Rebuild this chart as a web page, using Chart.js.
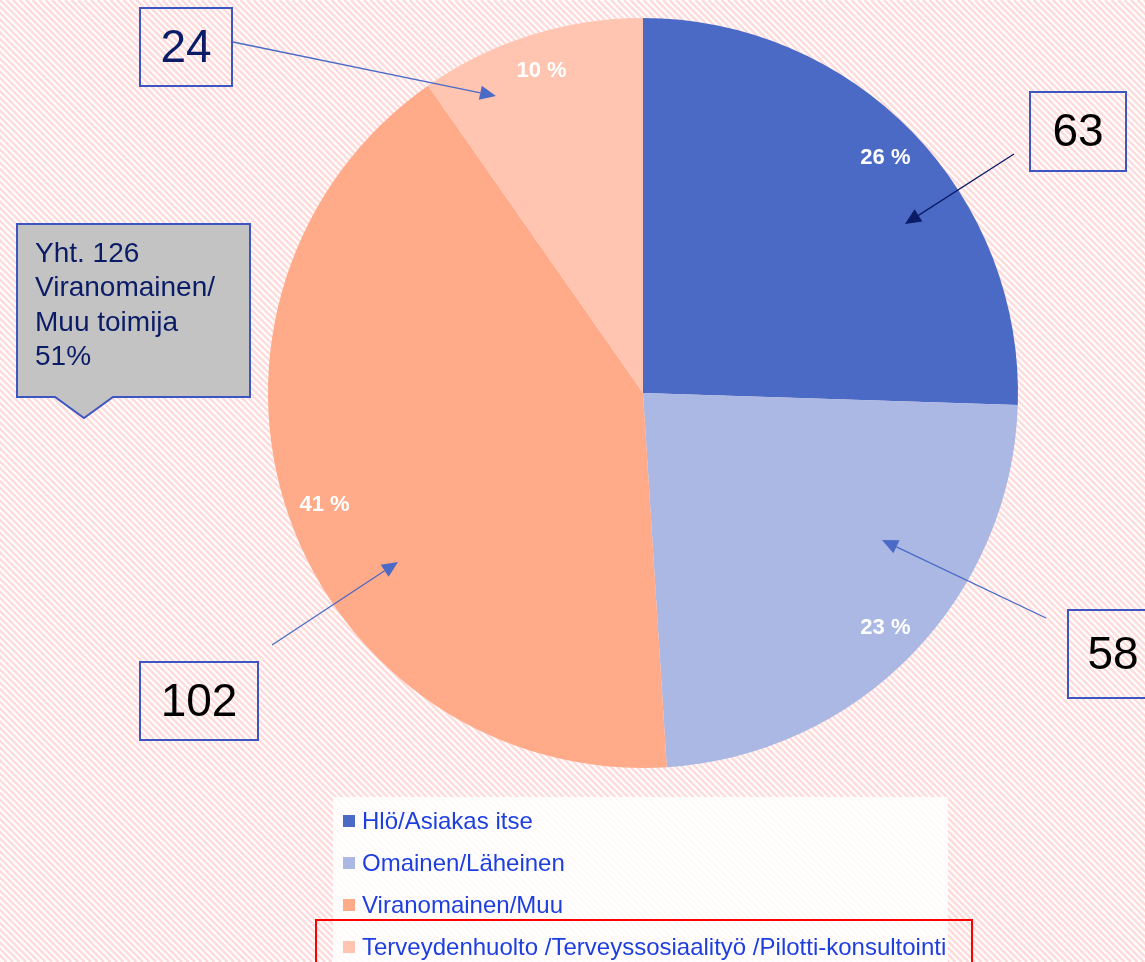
<!DOCTYPE html>
<html><head><meta charset="utf-8">
<script src="https://cdn.jsdelivr.net/npm/chart.js@4.4.1/dist/chart.umd.min.js"></script>
<style>html,body{margin:0;padding:0;background:#fff;}#wrap{width:1145px;height:962px;position:relative;}</style>
</head><body><div id="wrap"><canvas id="c" width="1145" height="962"></canvas></div>
<script>
const categories = ["Hlö/Asiakas itse", "Omainen/Läheinen", "Viranomainen/Muu", "Terveydenhuolto /Terveyssosiaalityö /Pilotti-konsultointi"];
const counts = [63, 58, 102, 24];
const percentLabels = ["26 %", "23 %", "41 %", "10 %"];
const sliceColors = ["#4A6AC6", "#AAB8E3", "#FFAA89", "#FFC5B1"];
const calloutLines = ["Yht. 126", "Viranomainen/", "Muu toimija", "51%"];

const FONT = '"Liberation Sans", Arial, sans-serif';
const NAVY = "#0B1C66";
const BOXBLUE = "#3D56C2";

function arrow(ctx, x1, y1, x2, y2, color, w, head) {
  ctx.save();
  ctx.strokeStyle = color; ctx.fillStyle = color; ctx.lineWidth = w;
  const a = Math.atan2(y2 - y1, x2 - x1);
  const bx = x2 - Math.cos(a) * head, by = y2 - Math.sin(a) * head;
  ctx.beginPath(); ctx.moveTo(x1, y1); ctx.lineTo(bx, by); ctx.stroke();
  ctx.beginPath();
  ctx.moveTo(x2, y2);
  ctx.lineTo(bx + Math.cos(a + Math.PI / 2) * head * 0.45, by + Math.sin(a + Math.PI / 2) * head * 0.45);
  ctx.lineTo(bx + Math.cos(a - Math.PI / 2) * head * 0.45, by + Math.sin(a - Math.PI / 2) * head * 0.45);
  ctx.closePath(); ctx.fill();
  ctx.restore();
}
function numBox(ctx, x, y, w, h, text, color) {
  ctx.save();
  ctx.strokeStyle = BOXBLUE; ctx.lineWidth = 2;
  ctx.strokeRect(x, y, w, h);
  ctx.fillStyle = color; ctx.font = "46px " + FONT;
  ctx.textAlign = "center"; ctx.textBaseline = "middle";
  ctx.fillText(text, x + w / 2, y + h / 2 + 2);
  ctx.restore();
}

const bgPlugin = {
  id: "bg",
  beforeDraw(chart) {
    const ctx = chart.ctx;
    ctx.save();
    ctx.fillStyle = "#ffffff";
    ctx.fillRect(0, 0, chart.width, chart.height);
    ctx.strokeStyle = "#FFDCDC"; ctx.lineWidth = 2.6;
    for (let k = -chart.height; k < chart.width + chart.height; k += 6.5) {
      ctx.beginPath(); ctx.moveTo(k, 0); ctx.lineTo(k + chart.height, chart.height); ctx.stroke();
    }
    ctx.fillStyle = "rgba(255,255,255,0.85)";
    ctx.fillRect(333, 797, 615, 170);
    ctx.restore();
  },
  afterDatasetsDraw(chart) {
    const ctx = chart.ctx;
    const meta = chart.getDatasetMeta(0);
    ctx.save();
    ctx.fillStyle = "#ffffff"; ctx.font = "bold 22px " + FONT;
    ctx.textAlign = "center"; ctx.textBaseline = "middle";
    meta.data.forEach((arc, i) => {
      const mid = (arc.startAngle + arc.endAngle) / 2;
      const r = arc.outerRadius * 0.9;
      ctx.fillText(percentLabels[i], arc.x + Math.cos(mid) * r, arc.y + Math.sin(mid) * r);
    });
    ctx.restore();
  },
  afterDraw(chart) {
    const ctx = chart.ctx;
    numBox(ctx, 140, 8, 92, 78, String(counts[3]), NAVY);
    numBox(ctx, 1030, 92, 96, 79, String(counts[0]), "#000");
    numBox(ctx, 1068, 610, 90, 88, String(counts[1]), "#000");
    numBox(ctx, 140, 662, 118, 78, String(counts[2]), "#000");
    arrow(ctx, 233, 42, 496, 96, "#4A6AC6", 1.3, 16);
    arrow(ctx, 1014, 154, 905, 224, NAVY, 1.3, 16);
    arrow(ctx, 1046, 618, 882, 540, "#4A6AC6", 1.3, 16);
    arrow(ctx, 272, 645, 398, 562, "#4A6AC6", 1.3, 16);
    ctx.save();
    ctx.beginPath();
    ctx.moveTo(17, 224); ctx.lineTo(250, 224); ctx.lineTo(250, 397);
    ctx.lineTo(113, 397); ctx.lineTo(84, 418); ctx.lineTo(55, 397); ctx.lineTo(17, 397);
    ctx.closePath();
    ctx.fillStyle = "#C4C3C4"; ctx.fill();
    ctx.strokeStyle = BOXBLUE; ctx.lineWidth = 2; ctx.stroke();
    ctx.fillStyle = NAVY; ctx.font = "28px " + FONT;
    ctx.textAlign = "left"; ctx.textBaseline = "middle";
    calloutLines.forEach((t, i) => ctx.fillText(t, 35, 254 + i * 34.5));
    ctx.restore();
    ctx.save();
    ctx.font = "24px " + FONT; ctx.textBaseline = "middle"; ctx.textAlign = "left";
    categories.forEach((c, i) => {
      const y = 821 + i * 42;
      ctx.fillStyle = sliceColors[i];
      ctx.fillRect(343, y - 6, 12, 12);
      ctx.fillStyle = "#1E3FE0";
      ctx.fillText(c, 362, y + 1);
    });
    ctx.strokeStyle = "#FF0000"; ctx.lineWidth = 2;
    ctx.strokeRect(316, 920, 656, 60);
    ctx.restore();
  }
};

new Chart(document.getElementById("c"), {
  type: "pie",
  data: { labels: categories, datasets: [{ data: counts, backgroundColor: sliceColors, borderWidth: 0 }] },
  options: {
    responsive: false, animation: false, devicePixelRatio: 1,
    layout: { padding: { top: 18, bottom: 194, left: 268, right: 127 } },
    plugins: { legend: { display: false }, tooltip: { enabled: false } }
  },
  plugins: [bgPlugin]
});
</script></body></html>
